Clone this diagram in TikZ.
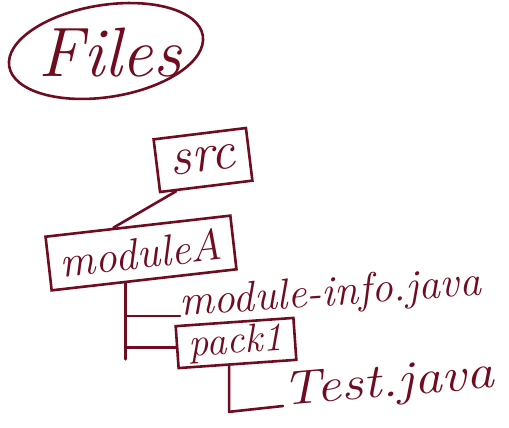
\documentclass[tikz,border=0pt]{standalone}
\usepackage{fontspec}
\usetikzlibrary{shapes.geometric,calc}
\definecolor{ink}{RGB}{112,12,32}
\newcommand\handfont[1]{\fontsize{#1}{#1}\selectfont\itshape\addfontfeature{FakeBold=1.6}}
\tikzset{
  wire/.style={draw=ink, line width=2.6pt, line cap=round, line join=round},
  folder/.style={draw=ink, line width=2.6pt, inner sep=0pt, text=ink},
  entry/.style={text=ink, inner sep=0pt},
}
\begin{document}
\begin{tikzpicture}[x=1pt, y=-1pt]
  \fill[white] (0,0) rectangle (509,428);
  \useasboundingbox (0,0) rectangle (509,428);

  % title in a ring
  \node[wire, ellipse, minimum width=196pt, minimum height=92pt, rotate=9] (ring) at (106,51) {};
  \node[entry, anchor=base] (title) at (110,77) {\handfont{70pt}Files};

  % folders
  \node[folder, minimum width=93pt, minimum height=53pt, rotate=7] (src) at (203,160) {\handfont{54pt}src};
  \node[folder, minimum width=186pt, minimum height=54pt, rotate=6.5] (modA) at (141,253) {\handfont{44pt}moduleA};
  \node[folder, minimum width=118pt, minimum height=42pt, rotate=4] (pk) at (236,343) {\handfont{40pt}pack1};

  % files
  \node[entry, anchor=base west, rotate=4] (mi) at (180,316) {\handfont{43pt}module-info.java};
  \node[entry, anchor=base west, rotate=5, xscale=1.15] (tj) at (283,406) {\handfont{48pt}Test.java};

  % src -> moduleA
  \draw[wire] ($(src.south west)!0.18!(src.south east)$) -- ($(modA.north west)!0.37!(modA.north east)$);

  % moduleA tree
  \coordinate (t0) at ($(modA.south west)!0.4!(modA.south east)$);
  \draw[wire] (t0) -- ($(t0)+(0,76)$);
  \draw[wire] (t0 |- mi.base west) -- (mi.base west);
  \draw[wire] (t0 |- pk.west) -- (pk.west);

  % pack1 tree
  \coordinate (t1) at ($(pk.south west)!0.43!(pk.south east)$);
  \coordinate (t1b) at ($(t1)+(0,46)$);
  \draw[wire] (t1) -- (t1b) -- (tj.base west);
\end{tikzpicture}
\end{document}
